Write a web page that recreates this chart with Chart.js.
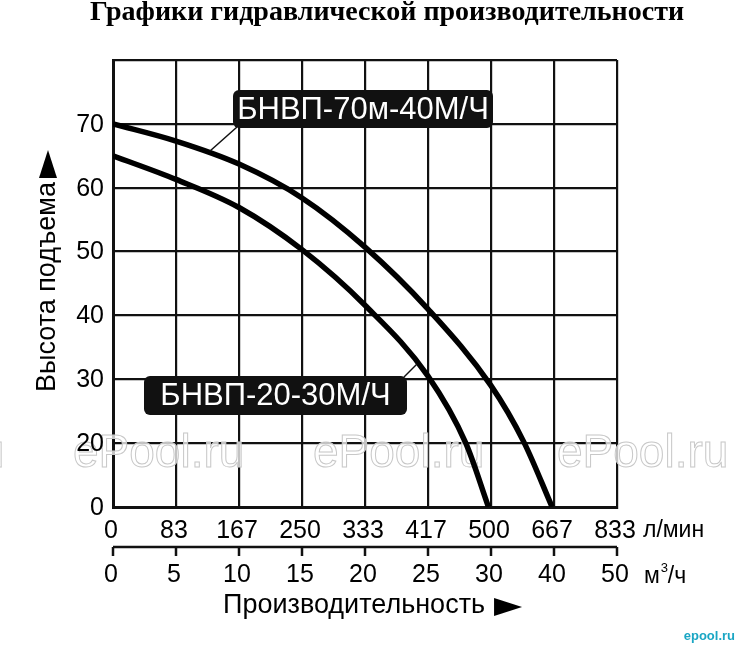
<!DOCTYPE html>
<html><head><meta charset="utf-8">
<script src="https://cdn.jsdelivr.net/npm/chart.js@4"></script>
<style>html,body{margin:0;padding:0;background:#fff}canvas{display:block}</style>
</head><body>
<canvas id="c" width="737" height="648"></canvas>
<script>
// Tick labels (grid lines are evenly spaced, labels are not)
const flowTicksM3h = [0, 5, 10, 15, 20, 25, 30, 40, 50];
const flowTicksLmin = [0, 83, 167, 250, 333, 417, 500, 667, 833];
const headTicks = [0, 20, 30, 40, 50, 60, 70, 80];
const headTickLabels = ['0', '20', '30', '40', '50', '60', '70', ''];
const seriesNames = ['БНВП-70м-40М/Ч', 'БНВП-20-30М/Ч'];
// Series values: flow (m³/h), head (m)
const flow70 = [0, 5, 10, 15, 20, 25, 30, 35.2, 39.7];
const head70 = [70, 67.3, 63.7, 58.4, 50.7, 41, 29, 20.2, 0];
const flow20 = [0, 5, 10, 15, 20, 25, 28, 29.8];
const head20 = [65, 61.3, 56.9, 50.3, 41.6, 30.5, 20, 0];

function toGrid(v, ticks) {
  for (let i = 0; i < ticks.length - 1; i++) {
    if (v <= ticks[i + 1]) return i + (v - ticks[i]) / (ticks[i + 1] - ticks[i]);
  }
  return ticks.length - 1;
}
function pts(fl, hd) {
  return fl.map((f, i) => ({ x: toGrid(f, flowTicksM3h), y: toGrid(hd[i], headTicks) }));
}

const SANS = '"Liberation Sans", Arial, sans-serif';

function callout(ctx, x, y, w, h, text, lx1, ly1, lx2, ly2) {
  ctx.save();
  ctx.strokeStyle = '#111'; ctx.lineWidth = 1.5;
  ctx.beginPath(); ctx.moveTo(lx1, ly1); ctx.lineTo(lx2, ly2); ctx.stroke();
  ctx.fillStyle = '#111';
  ctx.beginPath(); ctx.roundRect(x, y, w, h, 6); ctx.fill();
  ctx.fillStyle = '#fff';
  ctx.font = '31px ' + SANS;
  ctx.textAlign = 'center'; ctx.textBaseline = 'middle';
  ctx.fillText(text, x + w / 2, y + h / 2 + 1);
  ctx.restore();
}

function tri(ctx, x0, len, half) {
  ctx.beginPath();
  ctx.moveTo(x0, -half); ctx.lineTo(x0 + len, 0); ctx.lineTo(x0, half);
  ctx.closePath(); ctx.fill();
}

const deco = {
  id: 'deco',
  beforeDatasetsDraw(chart) {
    const ctx = chart.ctx;
    ctx.save();
    ctx.font = '46px ' + SANS;
    ctx.textAlign = 'left'; ctx.textBaseline = 'alphabetic';
    ctx.lineWidth = 1;
    [-167, 73, 313, 557].forEach(x => {
      ctx.fillStyle = 'rgba(255,255,255,0.75)';
      ctx.fillText('ePool.ru', x, 467);
      ctx.strokeStyle = '#c8c8c8';
      ctx.strokeText('ePool.ru', x, 467);
    });
    ctx.restore();
  },
  afterDatasetsDraw(chart) {
    const ctx = chart.ctx;
    callout(ctx, 233, 90, 260, 38, seriesNames[0], 237, 127, 210, 151);
    callout(ctx, 144, 376, 263, 39, seriesNames[1], 404, 377, 417, 364);
  },
  afterDraw(chart) {
    const ctx = chart.ctx;
    const xs = chart.scales.x, ys = chart.scales.y;
    ctx.save();
    // Title
    ctx.fillStyle = '#000';
    ctx.font = 'bold 28px "Liberation Serif", "Times New Roman", serif';
    ctx.textAlign = 'center'; ctx.textBaseline = 'middle';
    ctx.fillText('Графики гидравлической производительности', 387, 13);
    // Y tick labels
    ctx.font = '25px ' + SANS;
    ctx.textAlign = 'right'; ctx.textBaseline = 'middle';
    headTickLabels.forEach((t, i) => {
      if (t) ctx.fillText(t, 104, ys.getPixelForValue(i) + 1);
    });
    // X tick labels row 1 (l/min)
    ctx.textAlign = 'center';
    flowTicksLmin.forEach((t, i) => ctx.fillText(String(t), xs.getPixelForValue(i) - 2, 531));
    // Second axis line
    const yA = 547;
    ctx.strokeStyle = '#111'; ctx.lineWidth = 2.5;
    ctx.beginPath(); ctx.moveTo(xs.left, yA); ctx.lineTo(xs.right, yA); ctx.stroke();
    for (let i = 0; i < flowTicksM3h.length; i++) {
      const px = xs.getPixelForValue(i);
      ctx.beginPath(); ctx.moveTo(px, yA); ctx.lineTo(px, yA + 9); ctx.stroke();
    }
    // X tick labels row 2 (m3/h)
    flowTicksM3h.forEach((t, i) => ctx.fillText(String(t), xs.getPixelForValue(i) - 2, 575));
    // Units
    ctx.textAlign = 'left';
    ctx.font = '23px ' + SANS;
    ctx.fillText('л/мин', 643, 531);
    ctx.fillText('м', 644, 577);
    const mw = ctx.measureText('м').width;
    ctx.font = '13px ' + SANS;
    ctx.fillText('3', 644 + mw + 1, 568);
    ctx.font = '23px ' + SANS;
    ctx.fillText('/ч', 644 + mw + 8, 577);
    // X title with arrow
    ctx.font = '27px ' + SANS;
    ctx.textAlign = 'left';
    ctx.fillText('Производительность', 223, 606);
    const xw = ctx.measureText('Производительность').width;
    ctx.save();
    ctx.translate(0, 607);
    tri(ctx, 223 + xw + 9, 28, 9);
    ctx.restore();
    // Y title with arrow
    ctx.save();
    ctx.translate(48, 392);
    ctx.rotate(-Math.PI / 2);
    ctx.font = '27px ' + SANS;
    ctx.textAlign = 'left'; ctx.textBaseline = 'middle';
    ctx.fillText('Высота подъема', 0, 0);
    const yw = ctx.measureText('Высота подъема').width;
    tri(ctx, yw + 4, 28, 9);
    ctx.restore();
    // Logo
    ctx.font = 'bold 13px ' + SANS;
    ctx.fillStyle = '#1aa6c4';
    ctx.textAlign = 'right';
    ctx.fillText('epool.ru', 735, 636);
    ctx.restore();
  }
};

new Chart(document.getElementById('c').getContext('2d'), {
  type: 'scatter',
  data: {
    datasets: [
      { label: seriesNames[0], data: pts(flow70, head70), showLine: true, borderColor: '#000',
        borderWidth: 5.5, pointRadius: 0, cubicInterpolationMode: 'monotone', fill: false },
      { label: seriesNames[1], data: pts(flow20, head20), showLine: true, borderColor: '#000',
        borderWidth: 5.5, pointRadius: 0, cubicInterpolationMode: 'monotone', fill: false }
    ]
  },
  options: {
    responsive: false, animation: false, devicePixelRatio: 1,
    layout: { padding: { left: 113, top: 60, right: 120, bottom: 141 } },
    plugins: { legend: { display: false }, tooltip: { enabled: false }, title: { display: false } },
    scales: {
      x: { type: 'linear', min: 0, max: 8, ticks: { display: false, stepSize: 1 },
        grid: { color: '#111', lineWidth: 2.2, drawTicks: false },
        border: { color: '#111', width: 3 }, afterFit: s => { s.height = 0; } },
      y: { type: 'linear', min: 0, max: 7, ticks: { display: false, stepSize: 1 },
        grid: { color: '#111', lineWidth: 2.2, drawTicks: false },
        border: { color: '#111', width: 3 }, afterFit: s => { s.width = 0; } }
    }
  },
  plugins: [deco]
});
</script>
</body></html>
